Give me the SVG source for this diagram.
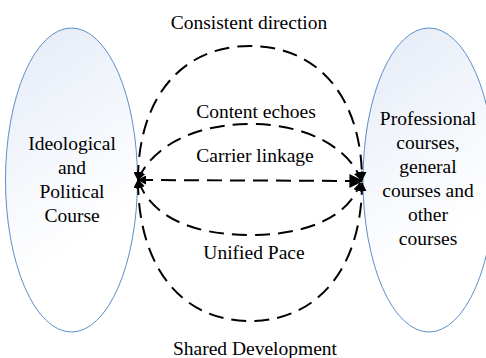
<svg xmlns="http://www.w3.org/2000/svg" width="486" height="358" viewBox="0 0 486 358">
  <defs>
    <linearGradient id="fillGrad" x1="0.2" y1="0" x2="0.5" y2="1">
      <stop offset="0" stop-color="#e6ecf7"/>
      <stop offset="0.75" stop-color="#ffffff"/>
    </linearGradient>
    <marker id="tip" viewBox="0 0 10 10" refX="9" refY="5" markerWidth="4.5" markerHeight="4.5" orient="auto-start-reverse" markerUnits="strokeWidth">
      <path d="M0,0 L10,5 L0,10 z" fill="#000"/>
    </marker>
    <marker id="bigtip" viewBox="0 0 10 10" refX="9" refY="5" markerWidth="7" markerHeight="8" orient="auto" markerUnits="strokeWidth">
      <path d="M0,0 L10,5 L0,10 z" fill="#000"/>
    </marker>
  </defs>
  <style>
    .course { fill: url(#fillGrad); stroke: #5b8fc9; stroke-width: 1; }
    .label { font-family: "Liberation Serif", "Times New Roman", serif; font-size: 19.5px; fill: #000; text-anchor: middle; }
    .link { fill: none; stroke: #000; stroke-width: 2; stroke-dasharray: 15 8; }
  </style>

  <g id="ideological-course">
    <ellipse class="course" cx="71.5" cy="180" rx="66" ry="152"/>
    <text class="label" x="72" y="150">Ideological</text>
    <text class="label" x="72" y="174">and</text>
    <text class="label" x="72" y="198">Political</text>
    <text class="label" x="72" y="222">Course</text>
  </g>

  <g id="professional-courses">
    <ellipse class="course" cx="429" cy="180" rx="66" ry="152"/>
    <text class="label" x="428" y="125">Professional</text>
    <text class="label" x="428" y="149">courses,</text>
    <text class="label" x="428" y="173">general</text>
    <text class="label" x="428" y="197">courses and</text>
    <text class="label" x="428" y="221">other</text>
    <text class="label" x="428" y="245">courses</text>
  </g>

  <g id="connectors">
    <path class="link" marker-start="url(#tip)" marker-end="url(#tip)" d="M138,180 C138,100 180,46 250,46 C320,46 362,100 362,180"/>
    <path class="link" marker-start="url(#tip)" marker-end="url(#tip)" d="M138,180 C150,150 190,124 250,124 C310,124 350,150 361,180"/>
    <path class="link" marker-start="url(#tip)" marker-end="url(#bigtip)" d="M138,180 L362,181"/>
    <path class="link" marker-start="url(#tip)" marker-end="url(#tip)" d="M138,180 C150,215 190,235 250,235 C310,235 350,215 360,183"/>
    <path class="link" marker-start="url(#tip)" marker-end="url(#tip)" d="M138,180 C138,265 180,321 250,321 C320,321 362,265 362,183"/>
  </g>

  <g id="labels">
    <text class="label" x="249" y="29">Consistent direction</text>
    <text class="label" x="256" y="118">Content echoes</text>
    <text class="label" x="255" y="162">Carrier linkage</text>
    <text class="label" x="254" y="259">Unified Pace</text>
    <text class="label" x="255" y="355">Shared Development</text>
  </g>
</svg>
